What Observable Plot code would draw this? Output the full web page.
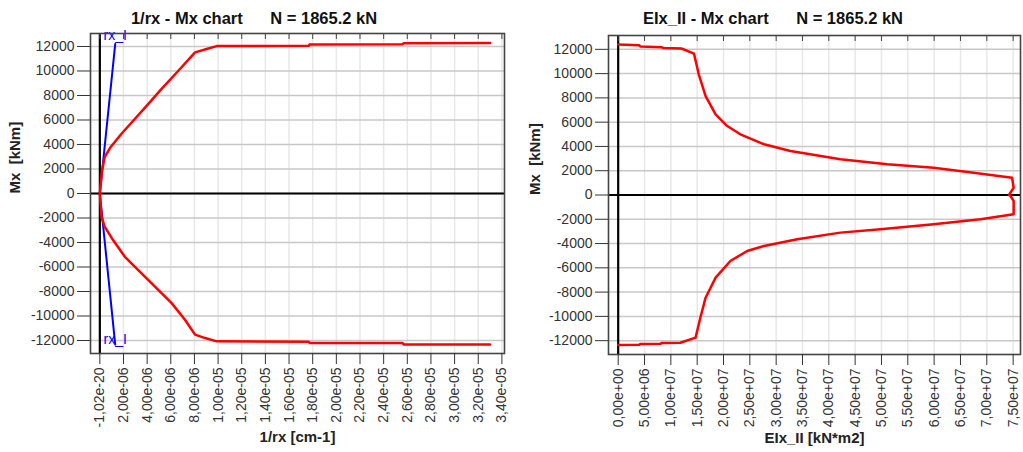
<!DOCTYPE html>
<html>
<head>
<meta charset="utf-8">
<script src="https://cdn.jsdelivr.net/npm/d3@7"></script>
<script src="https://cdn.jsdelivr.net/npm/@observablehq/plot@0.6"></script>
<style>
  body { margin: 0; background: #fff; }
  #wrap { position: relative; width: 1023px; height: 452px; background: #fff; overflow: hidden;
          font-family: 'Liberation Sans', Arial, sans-serif; }
  .title { position: absolute; top: 8px; font-weight: bold; font-size: 16.5px; line-height: 20px;
           white-space: pre; text-align: center; color: #111; }
  .panel { position: absolute; top: 22px; }
</style>
</head>
<body>
<div id="wrap">
  <div class="title" id="t1" style="left:0;width:508px;"></div>
  <div class="title" id="t2" style="left:523px;width:500px;"></div>
  <div class="panel" id="p1" style="left:0;"></div>
  <div class="panel" id="p2" style="left:512px;"></div>
</div>
<script>
// ---------- data ----------
const titleLeft = "1/rx - Mx chart      N = 1865.2 kN";
const titleRight = "EIx_II - Mx chart      N = 1865.2 kN";
const xLabelLeft = "1/rx [cm-1]";
const xLabelRight = "EIx_II [kN*m2]";
const yLabel = "Mx  [kNm]";
const refLabel = "rx_I";

// left chart: curvature 1/rx vs moment Mx
const curvUpper = [0, 0.19e-6, 0.42e-6, 0.92e-6, 1.83e-6, 2.97e-6, 3.86e-6, 5.22e-6, 6.64e-6, 8.05e-6, 9.03e-6, 9.88e-6, 1.765e-5, 1.775e-5, 2.56e-5, 2.57e-5, 3.3e-5];
const momUpper  = [0, 1900, 2990, 3800, 4880, 6100, 7050, 8540, 10020, 11520, 11790, 12030, 12050, 12170, 12180, 12270, 12280];
const curvLower = [0, 0.14e-6, 0.42e-6, 1.13e-6, 2.12e-6, 3.25e-6, 4.66e-6, 6.07e-6, 7.2e-6, 8.05e-6, 8.9e-6, 9.88e-6, 1.765e-5, 1.775e-5, 2.56e-5, 2.57e-5, 3.3e-5];
const momLower  = [0, -1900, -2720, -3820, -5170, -6250, -7600, -8950, -10300, -11520, -11800, -12070, -12100, -12200, -12210, -12320, -12330];
// uncracked reference line rx_I
const refCurv = [1.3e-6, 0, 1.3e-6];
const refMom  = [12200, 0, -12330];

// right chart: stiffness EIx_II vs moment Mx
const eiValues = [0, 0.40e7, 0.42e7, 0.83e7, 0.86e7, 1.20e7, 1.44e7, 1.53e7, 1.66e7, 1.85e7, 2.07e7, 2.32e7, 2.77e7, 3.27e7, 4.22e7, 5.11e7, 5.99e7, 6.75e7, 7.48e7, 7.51e7, 7.42e7,
                  7.45e7, 7.51e7, 7.51e7, 6.88e7, 5.99e7, 4.98e7, 4.22e7, 3.40e7, 2.77e7, 2.45e7, 2.13e7, 1.85e7, 1.66e7, 1.56e7, 1.47e7, 1.18e7, 0.83e7, 0.80e7, 0.42e7, 0.40e7, 0];
const eiMoments = [12400, 12330, 12230, 12170, 12100, 12070, 11640, 9940, 8150, 6650, 5680, 5000, 4180, 3620, 2940, 2530, 2250, 1840, 1430, 600, 0,
                  -80, -490, -1590, -2000, -2410, -2830, -3100, -3650, -4200, -4610, -5440, -6810, -8460, -10110, -11750, -12170, -12190, -12260, -12270, -12340, -12350];

// ticks
const yTicks = [-12000, -10000, -8000, -6000, -4000, -2000, 0, 2000, 4000, 6000, 8000, 10000, 12000];
const xTicksLeft = [-1.02e-20, 2e-6, 4e-6, 6e-6, 8e-6, 1e-5, 1.2e-5, 1.4e-5, 1.6e-5, 1.8e-5, 2e-5, 2.2e-5, 2.4e-5, 2.6e-5, 2.8e-5, 3e-5, 3.2e-5, 3.4e-5];
const xTicksRight = [0, 5e6, 1e7, 1.5e7, 2e7, 2.5e7, 3e7, 3.5e7, 4e7, 4.5e7, 5e7, 5.5e7, 6e7, 6.5e7, 7e7, 7.5e7];

// ---------- helpers ----------
function fmtExp(v) {
  const [m, e] = v.toExponential(2).split("e");
  const sign = e[0] === "-" ? "-" : "+";
  let digits = e.replace(/[+-]/, "");
  if (digits.length < 2) digits = "0" + digits;
  return m.replace(".", ",") + "e" + sign + digits;
}

const font = "'Liberation Sans', Arial, sans-serif";
const leftData = [
  ...curvUpper.map((c, i) => ({c, m: momUpper[i], s: "u"})),
  ...curvLower.map((c, i) => ({c, m: momLower[i], s: "l"}))
];
const refData = refCurv.map((c, i) => ({c, m: refMom[i]}));
const rightData = eiValues.map((v, i) => ({v, m: eiMoments[i]}));

function common(xTicks, xLabel, yLabelDx) {
  return {
    pre: [
      Plot.gridX(xTicks, {stroke: "#e8e8e8", strokeOpacity: 1, strokeWidth: 1.5}),
      Plot.gridY(yTicks, {stroke: "#c8c8c8", strokeOpacity: 1, strokeWidth: 1.5}),
      Plot.ruleY([0], {stroke: "#000", strokeWidth: 2.2}),
      Plot.ruleX([0], {stroke: "#000", strokeWidth: 2.2})
    ],
    post: [
      Plot.frame({stroke: "#444", strokeWidth: 1.6}),
      Plot.axisX(xTicks, {anchor: "top", tickSize: -5, tickFormat: () => "", label: null, stroke: "#444"}),
      Plot.axisY(yTicks, {tickSize: 13, tickPadding: 3, tickFormat: d => String(d), label: null, fontSize: 14}),
      Plot.axisX(xTicks, {tickSize: 11, tickPadding: 3, tickRotate: -90, tickFormat: fmtExp, label: null, fontSize: 14}),
      Plot.text([xLabel], {text: d => d, frameAnchor: "bottom", dy: 88, fontWeight: "bold", fontSize: 15, fill: "#222"}),
      Plot.text([yLabel], {text: d => d, frameAnchor: "left", rotate: -90, dx: yLabelDx, fontWeight: "bold", fontSize: 15, fill: "#222"})
    ]
  };
}

const cl = common(xTicksLeft, xLabelLeft, -75);
const left = Plot.plot({
  width: 512, height: 430,
  marginLeft: 90, marginRight: 8, marginTop: 11, marginBottom: 99,
  x: {domain: [-7.9e-7, 3.422e-5]},
  y: {domain: [-13060, 13060]},
  style: {fontFamily: font, fontSize: "14px", color: "#333", background: "transparent"},
  marks: [
    ...cl.pre,
    Plot.line(refData, {x: "c", y: "m", stroke: "#0000ff", strokeWidth: 2}),
    Plot.line(leftData, {x: "c", y: "m", z: "s", stroke: "#ff0000", strokeWidth: 2.5}),
    Plot.text([refData[0]], {x: "c", y: "m", text: () => refLabel, fill: "#0000ff", fontSize: 14, lineAnchor: "bottom", dy: -4}),
    Plot.text([refData[2]], {x: "c", y: "m", text: () => refLabel, fill: "#0000ff", fontSize: 14, lineAnchor: "bottom", dy: -1}),
    ...cl.post
  ]
});

const cr = common(xTicksRight, xLabelRight, -73);
const right = Plot.plot({
  width: 511, height: 430,
  marginLeft: 96, marginRight: 3, marginTop: 13, marginBottom: 98,
  x: {domain: [-1.84e6, 7.64e7]},
  y: {domain: [-13140, 13140]},
  style: {fontFamily: font, fontSize: "14px", color: "#333", background: "transparent"},
  marks: [
    ...cr.pre,
    Plot.line(rightData, {x: "v", y: "m", stroke: "#ff0000", strokeWidth: 2.5}),
    ...cr.post
  ]
});

document.getElementById("t1").textContent = titleLeft;
document.getElementById("t2").textContent = titleRight;
document.getElementById("p1").appendChild(left);
document.getElementById("p2").appendChild(right);
</script>
</body>
</html>
